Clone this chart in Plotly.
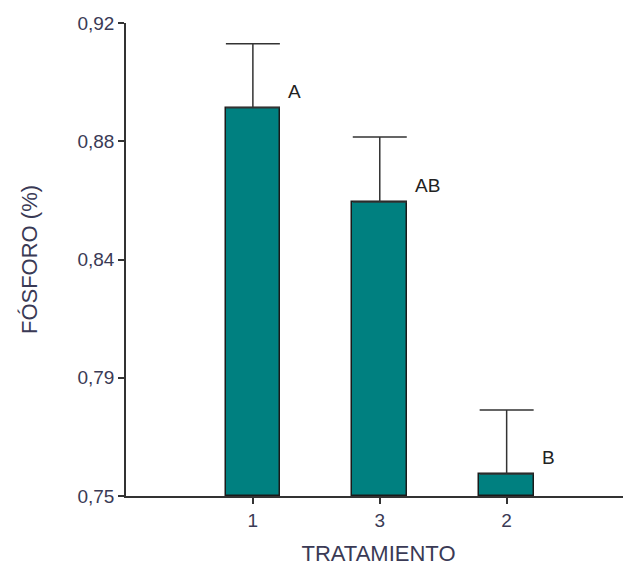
import plotly.graph_objects as go

categories = ["1", "3", "2"]
means = [0.8895, 0.8557, 0.7579]
err_plus = [0.0230, 0.0233, 0.0230]
letters = ["A", "AB", "B"]
ytick_vals = [0.75, 0.7925, 0.835, 0.8775, 0.92]
ytick_text = ["0,75", "0,79", "0,84", "0,88", "0,92"]

fig = go.Figure()
fig.add_trace(go.Bar(
    x=categories, y=[m - 0.75 for m in means], base=0.75,
    width=0.43,
    marker=dict(color="#008080", line=dict(color="#1a1a1a", width=1.5)),
    error_y=dict(type="data", symmetric=False, array=err_plus, arrayminus=[0, 0, 0],
                 color="#333333", thickness=1.5, width=27),
))

for i, (m, l) in enumerate(zip(means, letters)):
    fig.add_annotation(x=i, y=m, text=l, showarrow=False, xanchor="left", yanchor="bottom",
                       xshift=33, yshift=4, font=dict(size=19, color="#222222"))

fig.update_layout(
    width=623, height=558,
    margin=dict(l=118, r=0, t=15, b=70, autoexpand=False),
    paper_bgcolor="white", plot_bgcolor="white",
    font=dict(family="Liberation Sans, Arial", size=19, color="#3a3a55"),
    showlegend=False,
    bargap=0,
)
fig.update_xaxes(
    type="category", range=[-1, 2.98],
    showline=True, linecolor="#333333", linewidth=1.5,
    ticks="outside", ticklen=6, tickcolor="#333333", tickwidth=1.5,
    showgrid=False, zeroline=False,
    title=dict(text="TRATAMIENTO", font=dict(size=22, color="#3a3a55"), standoff=17),
)
fig.update_yaxes(
    range=[0.75, 0.92],
    tickvals=ytick_vals, ticktext=ytick_text,
    showline=True, linecolor="#333333", linewidth=1.5,
    ticks="outside", ticklen=6, tickcolor="#333333", tickwidth=1.5,
    showgrid=False, zeroline=False,
    title=dict(text="FÓSFORO (%)", font=dict(size=22, color="#3a3a55"), standoff=34),
)

fig.write_html("out.html")
